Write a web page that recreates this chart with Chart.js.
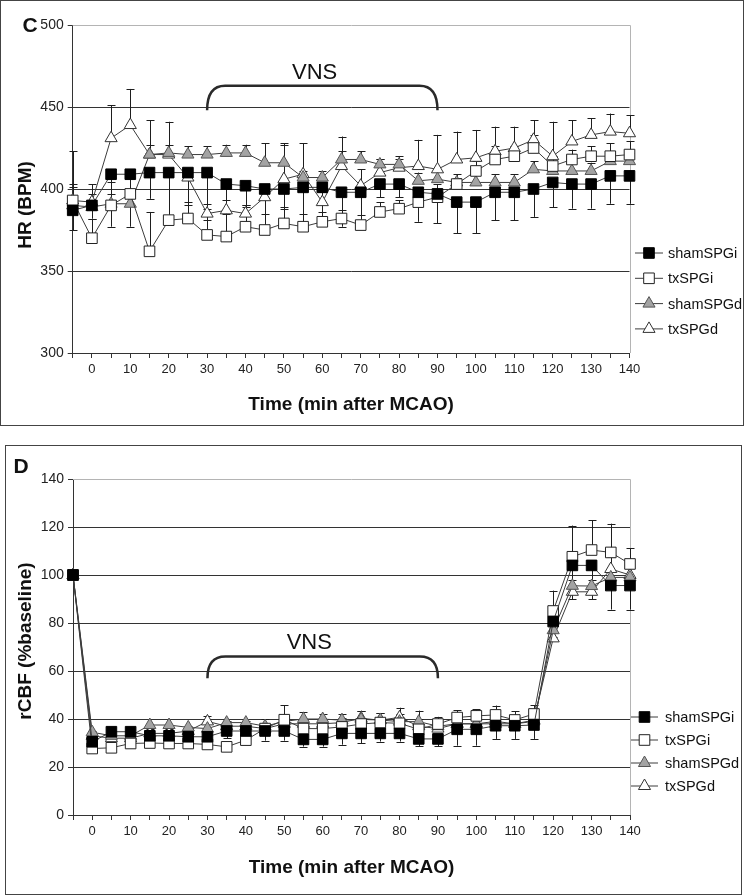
<!DOCTYPE html>
<html>
<head>
<meta charset="utf-8">
<script src="https://cdn.jsdelivr.net/npm/chart.js@4.4.0/dist/chart.umd.min.js"></script>
<style>
  body { margin: 0; background: #fff; width: 750px; height: 895px; position: relative; overflow: hidden; }
  .panel { position: absolute; border: 1.5px solid #444; box-sizing: border-box; }
  #boxC { left: 0; top: 0; width: 744px; height: 426px; }
  #boxD { left: 5px; top: 445px; width: 737px; height: 450px; }
  canvas { position: absolute; left: 0; }
  #hr { top: 0; }
  #cbf { top: 440px; }
</style>
</head>
<body>
<div class="panel" id="boxC"></div>
<div class="panel" id="boxD"></div>
<canvas id="hr" width="750" height="430"></canvas>
<canvas id="cbf" width="750" height="455"></canvas>
<script>
// categories: first point is the pre-MCAO baseline (no label)
const timeLabels = ['', '0', '5', '10', '15', '20', '25', '30', '35', '40', '45', '50', '55', '60', '65',
  '70', '75', '80', '85', '90', '95', '100', '105', '110', '115', '120', '125', '130', '135', '140'];
const seriesNames = ['shamSPGi', 'txSPGi', 'shamSPGd', 'txSPGd'];

// panel C - heart rate (BPM)
const hrShamSPGi = [387, 390, 409, 409, 410, 410, 410, 410, 403, 402, 400, 400, 401, 401, 398, 398, 403, 403, 398, 397, 392, 392, 398, 398, 400, 404, 403, 403, 408, 408];
const hrTxSPGi   = [393, 370, 390, 397, 362, 381, 382, 372, 371, 377, 375, 379, 377, 380, 382, 378, 386, 388, 392, 395, 403, 411, 418, 420, 425, 414, 418, 420, 420, 421];
const hrShamSPGd = [390, 389, 391, 391, 421, 422, 421, 421, 422, 422, 416, 416, 407, 407, 418, 418, 415, 415, 405, 406, 404, 404, 404, 404, 412, 411, 411, 411, 417, 417];
const hrTxSPGd   = [393, 392, 431, 439, 421, 421, 407, 385, 387, 385, 395, 406, 409, 392, 414, 402, 410, 413, 414, 412, 418, 419, 423, 425, 430, 420, 429, 433, 435, 434];
const hrShamSPGiErr = [12, 8, 32, 32, 16, 30, 20, 29, 29, 12, 22, 12, 21, 21, 21, 20, 8, 8, 18, 18, 19, 19, 17, 17, 17, 15, 15, 15, 17, 17];
const hrTxSPGiErr   = [10, 12, 14, 14, 24, 28, 10, 16, 14, 12, 10, 10, 8, 6, 5, 6, 6, 5, 8, 8, 4, 6, 8, 6, 8, 6, 6, 6, 8, 8];
const hrShamSPGdErr = [11, 8, 6, 6, 6, 5, 5, 5, 5, 5, 12, 12, 4, 4, 5, 5, 3, 3, 5, 5, 5, 5, 5, 5, 5, 5, 5, 5, 5, 5];
const hrTxSPGdErr   = [30, 11, 20, 22, 21, 20, 5, 6, 6, 5, 8, 21, 19, 6, 18, 10, 8, 7, 16, 21, 17, 17, 15, 13, 12, 21, 13, 10, 11, 11];

// panel D - rCBF (% baseline)
const cbfShamSPGi = [100, 30.5, 34.7, 34.7, 33, 33, 32.6, 32.6, 35, 35, 35, 35, 31.5, 31.5, 34, 34, 34, 34, 31.7, 31.7, 35.7, 35.7, 37.2, 37.2, 37.5, 80.6, 104, 104, 95.6, 95.6];
const cbfTxSPGi   = [100, 27.7, 28, 29.8, 30, 29.8, 29.8, 29.4, 28.4, 31.2, 36, 39.7, 36, 36, 36.7, 37.9, 38.5, 38.2, 35.7, 37.9, 40.6, 41.3, 41.7, 39.6, 42.1, 85, 107.6, 110.4, 109.4, 104.6];
const cbfShamSPGd = [100, 34.5, 33, 33, 37.5, 37.5, 36.5, 36, 38.5, 38.5, 37, 39, 40, 40, 39.5, 39.8, 39.6, 38.9, 38.9, 37, 38, 38, 38, 38, 39, 77, 95.5, 95.4, 99, 99];
const cbfTxSPGd   = [100, 33, 32, 32, 34, 34, 35, 39, 37, 37, 36, 38, 38, 38, 38.5, 40.3, 39.5, 40.7, 37, 36, 38, 38, 39, 38, 39.5, 73.6, 93, 93, 102.5, 100];
const cbfShamSPGiErr = [0, 3, 3, 3, 3, 3, 3, 3, 3, 3, 4, 4, 3, 3, 4.7, 4, 3.4, 3.4, 3, 3, 6.8, 6.8, 5.5, 5.5, 5.8, 4, 6, 6, 10, 10];
const cbfTxSPGiErr   = [0, 2, 2, 2, 2, 2, 2, 2, 2, 3, 4, 6, 7, 6, 5.5, 5.6, 4, 4, 7.8, 3, 3, 2.7, 3.9, 3.7, 3.7, 8.5, 13, 12.5, 12, 6.5];
const cbfShamSPGdErr = [0, 2, 2, 2, 2, 2, 2, 2, 2, 2, 2, 2, 2, 2, 2, 2, 2, 2, 2, 2, 2, 2, 2, 2, 2, 3, 5.5, 5.5, 4, 4];
const cbfTxSPGdErr   = [0, 2, 2, 2, 2, 2, 2, 2.4, 2, 2, 2, 2, 2, 2, 2, 3, 3, 4, 3, 3, 3, 3, 3, 3, 3, 3, 3, 3, 5, 5];

const FONT = "'Liberation Sans', Arial, sans-serif";
const markerStyles = [
  { shape: 'rect', radius: 7.5, fill: '#000000', stroke: '#000000' },
  { shape: 'rect', radius: 7.5, fill: '#ffffff', stroke: '#222222' },
  { shape: 'triangle', radius: 7, fill: '#a3a3a3', stroke: '#555555' },
  { shape: 'triangle', radius: 7, fill: '#ffffff', stroke: '#333333' }
];

function drawMarker(ctx, m, x, y) {
  ctx.beginPath();
  if (m.shape === 'rect') {
    const s = m.radius * Math.SQRT1_2;
    ctx.rect(x - s, y - s, 2 * s, 2 * s);
  } else {
    const r = m.radius;
    ctx.moveTo(x, y - r);
    ctx.lineTo(x + r * 0.866, y + r / 2);
    ctx.lineTo(x - r * 0.866, y + r / 2);
    ctx.closePath();
  }
  ctx.fillStyle = m.fill;
  ctx.fill();
  ctx.lineWidth = 1;
  ctx.strokeStyle = m.stroke;
  ctx.stroke();
}

// frame, error bars, VNS bracket, y title, panel letter and legend
const decor = {
  id: 'decor',
  beforeDatasetsDraw(chart, args, o) {
    const { ctx, chartArea: a, scales: { y } } = chart;
    ctx.save();
    ctx.strokeStyle = '#b4b4b4';
    ctx.lineWidth = 1;
    ctx.beginPath();
    ctx.moveTo(a.left, Math.round(a.top) + 0.5);
    ctx.lineTo(Math.round(a.right) + 0.5, Math.round(a.top) + 0.5);
    ctx.lineTo(Math.round(a.right) + 0.5, a.bottom);
    ctx.stroke();

    ctx.strokeStyle = '#1e1e1e';
    chart.data.datasets.forEach((ds, i) => {
      chart.getDatasetMeta(i).data.forEach((pt, j) => {
        const e = ds.errors[j];
        if (!e) return;
        const yEnd = y.getPixelForValue(ds.data[j] + ds.errorDir * e);
        const xs = Math.round(pt.x) + 0.5;
        ctx.beginPath();
        ctx.moveTo(xs, pt.y);
        ctx.lineTo(xs, yEnd);
        ctx.moveTo(xs - 4, Math.round(yEnd) + 0.5);
        ctx.lineTo(xs + 4, Math.round(yEnd) + 0.5);
        ctx.stroke();
      });
    });
    ctx.restore();
  },
  afterDraw(chart, args, o) {
    const { ctx, scales: { x, y } } = chart;
    ctx.save();

    // VNS bracket
    const v = o.vns;
    const x1 = x.getPixelForValue(timeLabels.indexOf(v.from));
    const x2 = x.getPixelForValue(timeLabels.indexOf(v.to));
    const yb = y.getPixelForValue(v.bottom);
    const yt = y.getPixelForValue(v.top);
    ctx.beginPath();
    ctx.moveTo(x1, yb);
    ctx.quadraticCurveTo(x1, yt, x1 + 18, yt);
    ctx.lineTo(x2 - 18, yt);
    ctx.quadraticCurveTo(x2, yt, x2, yb);
    ctx.lineWidth = 2.5;
    ctx.strokeStyle = '#2a2a2a';
    ctx.stroke();
    ctx.fillStyle = '#111';
    ctx.font = '22px ' + FONT;
    ctx.textAlign = 'center';
    ctx.textBaseline = 'middle';
    ctx.fillText('VNS', x.getPixelForValue(v.textAt), y.getPixelForValue(v.textY));

    // y axis title
    ctx.save();
    ctx.translate(o.yTitle.x, o.yTitle.y);
    ctx.rotate(-Math.PI / 2);
    ctx.font = 'bold 19px ' + FONT;
    ctx.fillText(o.yTitle.text, 0, 0);
    ctx.restore();

    // panel letter
    ctx.font = 'bold 21px ' + FONT;
    ctx.fillText(o.letter.text, o.letter.x, o.letter.y);

    // legend: line with marker, then name
    const lg = o.legend;
    ctx.font = '14.5px ' + FONT;
    ctx.textAlign = 'left';
    chart.data.datasets.forEach((ds, i) => {
      const ly = lg.y0 + i * lg.step;
      ctx.beginPath();
      ctx.moveTo(lg.x1, ly);
      ctx.lineTo(lg.x2, ly);
      ctx.lineWidth = 1;
      ctx.strokeStyle = '#3c3c3c';
      ctx.stroke();
      drawMarker(ctx, markerStyles[i], (lg.x1 + lg.x2) / 2, ly);
      ctx.fillStyle = '#111';
      ctx.fillText(ds.label, lg.textX, ly + 1);
    });
    ctx.restore();
  }
};

function buildChart(id, p) {
  const datasets = p.series.map((vals, i) => ({
    label: seriesNames[i],
    data: vals,
    errors: p.errors[i],
    errorDir: p.errorDirs[i],
    borderColor: '#3c3c3c',
    borderWidth: 1,
    pointStyle: markerStyles[i].shape,
    pointRadius: markerStyles[i].radius,
    pointHoverRadius: markerStyles[i].radius,
    pointBackgroundColor: markerStyles[i].fill,
    pointBorderColor: markerStyles[i].stroke,
    pointBorderWidth: 1,
    tension: 0,
    fill: false
  }));

  return new Chart(document.getElementById(id), {
    type: 'line',
    data: { labels: timeLabels, datasets: datasets },
    options: {
      responsive: false,
      animation: false,
      events: [],
      layout: { padding: p.padding },
      plugins: {
        legend: { display: false },
        tooltip: { enabled: false },
        decor: p.decor
      },
      scales: {
        x: {
          offset: false,
          border: { display: true, color: '#333', width: 1 },
          grid: { drawOnChartArea: false, tickColor: '#333', tickLength: 5 },
          ticks: {
            autoSkip: false,
            maxRotation: 0,
            padding: 4,
            color: '#222',
            font: { family: FONT, size: 13 },
            callback: (val, i) => (timeLabels[i] !== '' && Number(timeLabels[i]) % 10 === 0) ? timeLabels[i] : ''
          },
          title: {
            display: true,
            text: 'Time (min after MCAO)',
            color: '#111',
            padding: 0,
            font: { family: FONT, size: 19, weight: 'bold' }
          },
          afterFit: (s) => { s.height = p.xAxisHeight; }
        },
        y: {
          min: p.yMin,
          max: p.yMax,
          border: { display: true, color: '#333', width: 1 },
          grid: {
            color: (c) => (c.tick.value === p.yMax || c.tick.value === p.yMin) ? 'rgba(0,0,0,0)' : '#333',
            tickColor: '#333',
            tickLength: 5
          },
          ticks: {
            stepSize: p.yStep,
            padding: 4,
            color: '#222',
            font: { family: FONT, size: 14 }
          },
          afterFit: (s) => { s.width = p.yAxisWidth; }
        }
      }
    },
    plugins: [decor]
  });
}

buildChart('hr', {
  series: [hrShamSPGi, hrTxSPGi, hrShamSPGd, hrTxSPGd],
  errors: [hrShamSPGiErr, hrTxSPGiErr, hrShamSPGdErr, hrTxSPGdErr],
  errorDirs: [-1, 1, 1, 1],
  yMin: 300, yMax: 500, yStep: 50,
  yAxisWidth: 72.7,
  xAxisHeight: 63.4,
  padding: { left: 0, right: 120.5, top: 25, bottom: 13.6 },
  decor: {
    vns: { from: '30', to: '90', bottom: 448, top: 463, textAt: 12.6, textY: 471 },
    yTitle: { text: 'HR (BPM)', x: 26, y: 205 },
    letter: { text: 'C', x: 30, y: 26 },
    legend: { x1: 635, x2: 663, textX: 668, y0: 253, step: 25.3 }
  }
});

buildChart('cbf', {
  series: [cbfShamSPGi, cbfTxSPGi, cbfShamSPGd, cbfTxSPGd],
  errors: [cbfShamSPGiErr, cbfTxSPGiErr, cbfShamSPGdErr, cbfTxSPGdErr],
  errorDirs: [-1, 1, -1, 1],
  yMin: 0, yMax: 140, yStep: 20,
  yAxisWidth: 73,
  xAxisHeight: 64.4,
  padding: { left: 0, right: 120, top: 39, bottom: 15.6 },
  decor: {
    vns: { from: '30', to: '90', bottom: 57, top: 66, textAt: 12.3, textY: 71.7 },
    yTitle: { text: 'rCBF (%baseline)', x: 26, y: 201 },
    letter: { text: 'D', x: 21, y: 27 },
    legend: { x1: 631, x2: 658, textX: 665, y0: 277, step: 23 }
  }
});
</script>
</body>
</html>
